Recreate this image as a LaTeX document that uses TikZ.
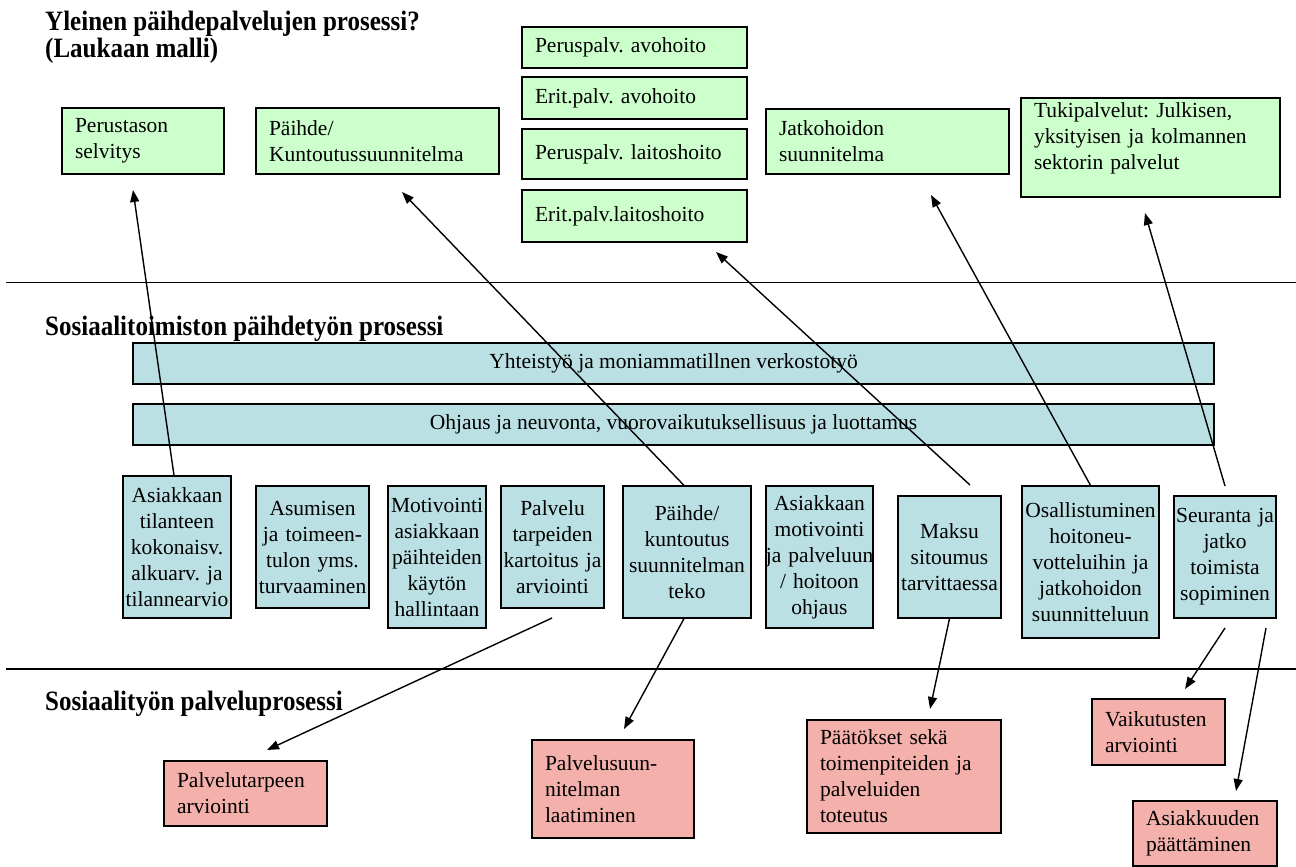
\documentclass[tikz,border=0pt]{standalone}
\usepackage{fontspec}
\usepackage{graphicx}
\setmainfont{Liberation Serif}
\usetikzlibrary{arrows.meta,shadows}
\frenchspacing

\definecolor{boxgreen}{HTML}{CCFFCC}
\definecolor{boxblue}{HTML}{BBE0E3}
\definecolor{boxpink}{HTML}{F4B0AA}

\tikzset{
  boxbase/.style={draw=black, line width=1.2pt,
    drop shadow={shadow xshift=1.3pt, shadow yshift=-1.3pt, opacity=1, fill=black!55},
    font=\fontsize{21.5}{26}\selectfont\frenchspacing, inner ysep=2pt},
  greenbox/.style={boxbase, fill=boxgreen, align=left, inner xsep=13pt},
  pinkbox/.style={boxbase, fill=boxpink, align=left, inner xsep=13pt},
  bluebox/.style={boxbase, fill=boxblue, align=center, inner xsep=0pt},
  barbox/.style={boxbase, fill=boxblue, align=center, minimum width=1081, minimum height=41},
  heading/.style={font=\fontsize{25}{27}\selectfont\bfseries, anchor=base west, inner sep=0pt},
  conn/.style={line width=1.4pt, -{Triangle[length=12pt,width=9pt]}},
  rule/.style={line width=1.4pt},
}

\newcommand{\tallhead}[1]{\scalebox{1}[1.12]{#1}}

\begin{document}
\begin{tikzpicture}[x=1pt,y=-1pt]
\useasboundingbox (0,0) rectangle (1296,867);

% section rules
\coordinate (r1a) at (6,282.5);  \coordinate (r1b) at (1296,282.5);
\coordinate (r2a) at (6,669);    \coordinate (r2b) at (1296,669);
\draw[rule] (r1a) -- (r1b);
\draw[rule] (r2a) -- (r2b);

% headings
\node[heading] (h1a) at (45,30.7) {\tallhead{Yleinen päihdepalvelujen prosessi?}};
\node[heading] (h1b) at (45,57.3) {\tallhead{(Laukaan malli)}};
\node[heading] (h2) at (45,335) {\tallhead{Sosiaalitoimiston päihdetyön prosessi}};
\node[heading] (h3) at (45,710) {\tallhead{Sosiaalityön palveluprosessi}};

% general substance-abuse services (green)
\node[greenbox, text width=136, minimum height=66] (perus) at (143,141) {Perustason\\selvitys};
\node[greenbox, text width=217, minimum height=66] (pkunt) at (377.5,141) {Päihde/\\Kuntoutussuunnitelma};
\node[greenbox, text width=199, minimum height=41] (pav) at (634.5,47.5) {Peruspalv. avohoito};
\node[greenbox, text width=199, minimum height=42] (eav) at (634.5,98) {Erit.palv. avohoito};
\node[greenbox, text width=199, minimum height=50] (plt) at (634.5,154) {Peruspalv. laitoshoito};
\node[greenbox, text width=199, minimum height=52] (elt) at (634.5,216) {Erit.palv.laitoshoito};
\node[greenbox, text width=217, minimum height=65] (jatko) at (887.5,141.5) {Jatkohoidon\\suunnitelma};
\node[greenbox, text width=233, minimum height=99] (tuki) at (1150.5,147.5)
  {Tukipalvelut: Julkisen,\\yksityisen ja kolmannen\\sektorin palvelut\\[-4pt]\mbox{}};

% social office process (blue)
\node[barbox] (yht) at (673.5,363.5) {Yhteistyö ja moniammatillnen verkostotyö};
\node[barbox] (ohj) at (673.5,424.5) {Ohjaus ja neuvonta, vuorovaikutuksellisuus ja luottamus};

\node[bluebox, text width=108, minimum height=142] (asiak) at (177,547)
  {Asiakkaan\\tilanteen\\kokonaisv.\\alkuarv. ja\\tilannearvio};
\node[bluebox, text width=113, minimum height=122] (asum) at (312.5,547)
  {Asumisen\\ja toimeen-\\tulon yms.\\turvaaminen};
\node[bluebox, text width=98, minimum height=142] (motiv) at (437,557)
  {Motivointi\\asiakkaan\\päihteiden\\käytön\\hallintaan};
\node[bluebox, text width=103, minimum height=122] (palv) at (552.5,547)
  {Palvelu\\tarpeiden\\kartoitus ja\\arviointi};
\node[bluebox, text width=128, minimum height=132] (paihde) at (687,552)
  {Päihde/\\kuntoutus\\suunnitelman\\teko};
\node[bluebox, text width=107, minimum height=142] (asmot) at (819.5,557)
  {Asiakkaan\\motivointi\\\makebox[0pt]{ja palveluun}\\/ hoitoon\\ohjaus};
\node[bluebox, text width=103, minimum height=122] (maksu) at (949.5,557)
  {Maksu\\sitoumus\\tarvittaessa};
\node[bluebox, text width=137, minimum height=152] (osall) at (1090.5,562)
  {Osallistuminen\\hoitoneu-\\votteluihin ja\\jatkohoidon\\suunnitteluun};
\node[bluebox, text width=102, minimum height=122] (seur) at (1225,557)
  {Seuranta ja\\jatko\\toimista\\sopiminen};

% social work service process (pink)
\node[pinkbox, text width=137, minimum height=65] (ptarve) at (245.5,793.5) {Palvelutarpeen\\arviointi};
\node[pinkbox, text width=136, minimum height=98] (psuun) at (613,789) {Palvelusuun-\\nitelman\\laatiminen};
\node[pinkbox, text width=168, minimum height=113] (paat) at (904,776.5)
  {Päätökset sekä\\toimenpiteiden ja\\palveluiden\\toteutus};
\node[pinkbox, text width=107, minimum height=66] (vaik) at (1158.5,732) {Vaikutusten\\arviointi};
\node[pinkbox, text width=118, minimum height=65] (asiakk) at (1205,833.5) {Asiakkuuden\\päättäminen};

% free connector ends
\coordinate (t1) at (133,190);
\coordinate (t2) at (402,192);
\coordinate (s3) at (970,485);   \coordinate (t3) at (716,252);
\coordinate (t4) at (931,195);
\coordinate (s5) at (1225,486);  \coordinate (t5) at (1145,213);
\coordinate (s6) at (552,618);   \coordinate (t6) at (267,750);
\coordinate (t7) at (624,729);
\coordinate (t8) at (930,709);
\coordinate (s9) at (1225,628);  \coordinate (t9) at (1185,689);
\coordinate (s10) at (1266,628); \coordinate (t10) at (1236,791);

% connectors
\draw[conn] ([xshift=-3pt]asiak.north) -- (t1);
\draw[conn] ([xshift=-3pt]paihde.north) -- (t2);
\draw[conn] (s3) -- (t3);
\draw[conn] (osall.north) -- (t4);
\draw[conn] (s5) -- (t5);
\draw[conn] (s6) -- (t6);
\draw[conn] ([xshift=-3pt]paihde.south) -- (t7);
\draw[conn] (maksu.south) -- (t8);
\draw[conn] (s9) -- (t9);
\draw[conn] (s10) -- (t10);
\end{tikzpicture}
\end{document}
